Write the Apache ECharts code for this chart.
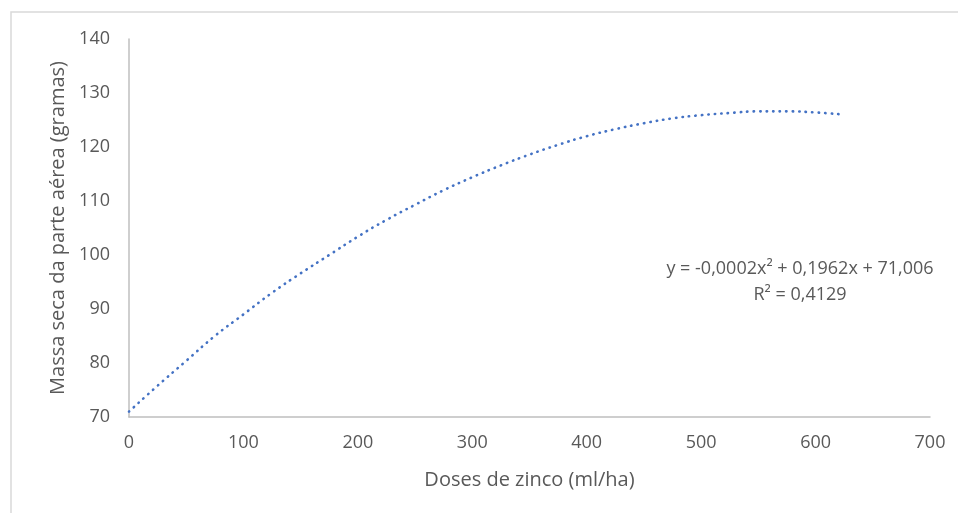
<!DOCTYPE html>
<html>
<head>
<meta charset="utf-8">
<script src="https://cdn.jsdelivr.net/npm/echarts@6/dist/echarts.min.js"></script>
<style>
  html, body { margin: 0; padding: 0; background: #fff; }
  #chart { width: 958px; height: 513px; }
</style>
</head>
<body>
<div id="chart"></div>
<script>
// Dose of zinc (ml/ha) and fitted dry mass (g)
const doses = [0, 25, 50, 75, 100, 125, 150, 175, 200, 225, 250, 275, 300, 325, 350, 375, 400, 425, 450, 475, 500, 525, 550, 575, 600, 625];
const massa = [71.0, 75.8, 80.4, 85.0, 89.0, 93.0, 96.6, 100.0, 103.4, 106.5, 109.3, 112.0, 114.4, 116.6, 118.6, 120.4, 122.0, 123.3, 124.4, 125.3, 125.9, 126.3, 126.6, 126.6, 126.4, 126.0];
const xTitle = 'Doses de zinco (ml/ha)';
const yTitle = 'Massa seca da parte aérea (gramas)';
const eqLine1 = 'y = -0,0002x² + 0,1962x + 71,006';
const eqLine2 = 'R² = 0,4129';

const FONT = '"Open Sans", sans-serif';
const GREY = '#595959';

const chart = echarts.init(document.getElementById('chart'));
chart.setOption({
  animation: false,
  backgroundColor: '#fff',
  grid: { left: 129, top: 39, right: 28, bottom: 96, containLabel: false },
  xAxis: {
    type: 'value', min: 0, max: 700, interval: 100,
    name: xTitle, nameLocation: 'middle', nameGap: 53,
    nameTextStyle: { color: GREY, fontSize: 20, fontFamily: FONT },
    axisLine: { show: true, lineStyle: { color: '#bfbfbf', width: 1.5 } },
    axisTick: { show: false },
    splitLine: { show: false },
    axisLabel: { color: GREY, fontSize: 18, fontFamily: FONT, margin: 17 }
  },
  yAxis: {
    type: 'value', min: 70, max: 140, interval: 10,
    name: yTitle, nameLocation: 'middle', nameGap: 59, nameRotate: 90,
    nameTextStyle: { color: GREY, fontSize: 20, fontFamily: FONT },
    axisLine: { show: true, lineStyle: { color: '#bfbfbf', width: 1.5 } },
    axisTick: { show: false },
    splitLine: { show: false },
    axisLabel: { color: GREY, fontSize: 18, fontFamily: FONT, margin: 19 }
  },
  series: [{
    type: 'line',
    data: doses.map((d, i) => [d, massa[i]]),
    smooth: true,
    showSymbol: false,
    lineStyle: { color: '#4472C4', width: 2.6, type: [0.4, 6.1], cap: 'round' }
  }],
  graphic: [
    {
      type: 'rect', silent: true,
      shape: { x: 11, y: 12, width: 980, height: 540 },
      style: { fill: 'none', stroke: '#d9d9d9', lineWidth: 1.5 }
    },
    {
      type: 'text', silent: true, x: 800, y: 269,
      style: { text: eqLine1, fill: GREY, font: '18px ' + FONT, align: 'center', verticalAlign: 'middle' }
    },
    {
      type: 'text', silent: true, x: 800, y: 295,
      style: { text: eqLine2, fill: GREY, font: '18px ' + FONT, align: 'center', verticalAlign: 'middle' }
    }
  ]
});
</script>
</body>
</html>
